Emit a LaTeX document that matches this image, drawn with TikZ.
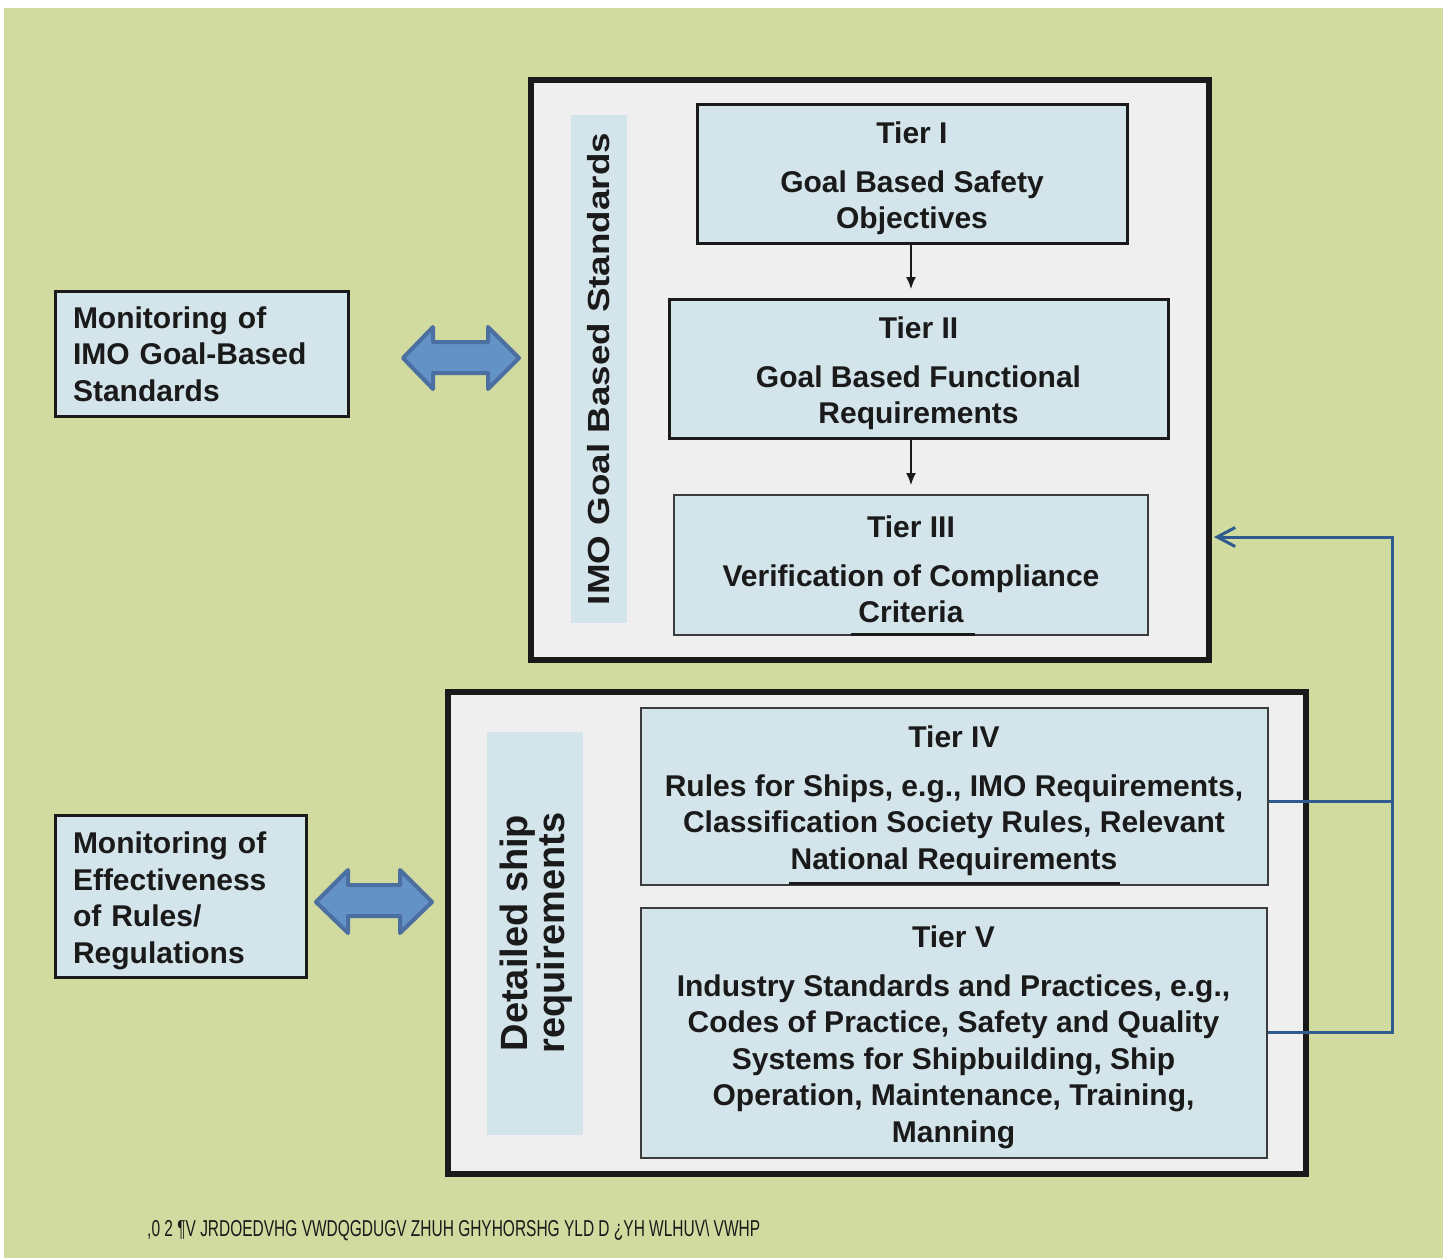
\documentclass[tikz,border=0pt]{standalone}
\usepackage{fontspec}
\setmainfont{Liberation Sans}
\usepackage{graphicx}
\usetikzlibrary{arrows.meta}
\definecolor{bggreen}{HTML}{D1DA9F}
\definecolor{panel}{HTML}{EFEFEF}
\definecolor{lblue}{HTML}{D4E4EB}
\definecolor{arrfill}{HTML}{6393C6}
\definecolor{arrline}{HTML}{4A6FA0}
\definecolor{connblue}{HTML}{2F5B8F}
\definecolor{ink}{HTML}{1A1A1A}
\newcommand\bodyfnt{\fontsize{30}{36.5}\selectfont\bfseries}
\newcommand\topstrut{\rule{0pt}{30pt}}
\tikzset{
  panelbox/.style={draw=ink, fill=panel, line width=6pt, inner sep=0pt},
  labelbar/.style={fill=lblue, inner sep=0pt},
  tierbox/.style={draw=ink, fill=lblue, line width=3pt, align=center, text=ink, font=\bodyfnt, inner sep=0pt},
  thintier/.style={tierbox, line width=2pt, draw=ink!85},
  monbox/.style={draw=ink, fill=lblue, line width=3pt, align=left, text=ink, font=\bodyfnt, inner xsep=18pt, inner ysep=0pt},
  dblarrow/.style={fill=arrfill, draw=arrline, line width=4pt, line join=round},
  conn/.style={draw=connblue, line width=3pt},
  tierarrow/.style={draw=ink, line width=1.5pt, -{Latex[length=12pt,width=10pt]}, shorten >=9pt},
  vlabel/.style={rotate=90, text=ink, align=center, inner sep=0pt},
}
\begin{document}
\begin{tikzpicture}[x=1pt,y=-1pt]
\useasboundingbox (0,0) rectangle (1448,1258);
\fill[bggreen] (4,8) rectangle (1443,1258);

% panels
\node[panelbox, minimum width=678pt, minimum height=580pt] (gbs) at (870,369.5) {};
\node[panelbox, minimum width=858pt, minimum height=482pt] (dsr) at (877,933) {};

% vertical label bars
\node[labelbar, minimum width=56pt, minimum height=508pt] (bar1) at (599,369) {};
\node[labelbar, minimum width=96pt, minimum height=403pt] (bar2) at (535,933.5) {};
\node[vlabel, font=\fontsize{30.5}{36}\selectfont\bfseries] (lab1) at (bar1.center)
  {\resizebox{472pt}{\height}{IMO Goal Based Standards}};
\node[vlabel, font=\fontsize{38}{35}\selectfont\bfseries] (lab2) at (536,933)
  {Detailed ship\\requirements};

% tiers
\node[tierbox, minimum width=430pt, minimum height=139pt] (t1) at (912,174)
  {\topstrut Tier I\\[12.5pt]Goal Based Safety\\Objectives};
\node[tierbox, minimum width=499pt, minimum height=139pt] (t2) at (918.5,369)
  {\topstrut Tier II\\[12.5pt]Goal Based Functional\\Requirements};
\node[thintier, minimum width=474pt, minimum height=140pt] (t3) at (911,565)
  {\topstrut Tier III\\[12.5pt]Verification of Compliance\\Criteria};
\node[thintier, minimum width=627pt, minimum height=177pt] (t4) at (954,796.5)
  {\topstrut Tier IV\\[12.5pt]Rules for Ships, e.g., IMO Requirements,\\Classification Society Rules, Relevant\\National Requirements};
\node[thintier, minimum width=626pt, minimum height=250pt] (t5) at (953.5,1033)
  {\topstrut Tier V\\[12.5pt]Industry Standards and Practices, e.g.,\\Codes of Practice, Safety and Quality\\Systems for Shipbuilding, Ship\\Operation, Maintenance, Training,\\Manning};

% small marks under texts
\draw[ink, line width=3pt] (851,634.5) -- (975,634.5);
\draw[ink, line width=3pt] (789,883.5) -- (1120,883.5);

% tier arrows
\draw[tierarrow] (t1.south -| 911,0) -- (t2.north -| 911,0);
\draw[tierarrow] (t2.south -| 911,0) -- (t3.north -| 911,0);

% monitoring boxes
\node[monbox, text width=257pt, minimum height=125pt] (m1) at (201.5,354)
  {Monitoring of\\IMO Goal-Based\\Standards};
\node[monbox, text width=215pt, minimum height=162pt] (m2) at (180.5,896.5)
  {\topstrut Monitoring of\\Effectiveness\\of Rules/\\Regulations};

% double arrows
\draw[dblarrow] (403,358) -- (433,327) -- (433,342) -- (488,342) -- (488,327) -- (519,358)
  -- (488,389) -- (488,373) -- (433,373) -- (433,389) -- cycle;
\draw[dblarrow] (316,902) -- (348,870) -- (348,885) -- (400,885) -- (400,870) -- (432,902)
  -- (400,933) -- (400,916) -- (348,916) -- (348,933) -- cycle;

% feedback connector
\coordinate (cT) at (1392,537);
\coordinate (c4) at (1392,801);
\coordinate (c5) at (1392,1032);
\coordinate (tip) at ([xshift=2pt]gbs.east);
\draw[conn] (t4.east |- c4) -- (c4);
\draw[conn, -{Straight Barb[length=18pt,width=19pt]}] (t5.east |- c5) -- (c5) -- (cT) -- (tip |- cT);

% caption (as printed)
\node[anchor=west, text=ink, inner sep=0pt, font=\fontsize{23}{26}\selectfont] (cap) at (147,1230)
  {\resizebox{613pt}{\height}{,0 2 ¶V JRDOEDVHG VWDQGDUGV ZHUH GHYHORSHG YLD D ¿YH WLHUV\textbackslash{} VWHP}};
\end{tikzpicture}
\end{document}
